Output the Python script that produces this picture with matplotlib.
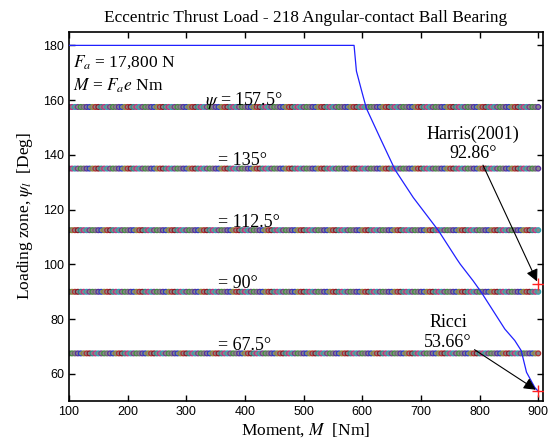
import numpy as np
import matplotlib
matplotlib.use('Agg')
import matplotlib.pyplot as plt

# loading zone curve
moment = [100, 586, 590, 599, 607, 631, 656, 687, 730, 761, 767, 789, 803,
          823, 843, 860, 871, 880, 894, 900]
psi_l = [180, 180, 170.6, 163.3, 157.0, 145.9, 134.5, 124.4, 112.3, 102.0,
         100.1, 94.0, 89.8, 83.1, 76.4, 72.2, 68.5, 60.6, 55.1, 53.66]

# constant ball-position rows
psi_levels = [157.5, 135, 112.5, 90, 67.5]
psi_labels = [r'$\psi$ = 157.5°', '= 135°', '= 112.5°', '= 90°', '= 67.5°']
m_grid = np.arange(100, 905, 5)

# reference results
ref_names = ['Harris(2001)\n92.86°', 'Ricci\n53.66°']
ref_m = [900, 900]
ref_psi = [92.86, 53.66]

palette = ['#8b1a2a', '#7a3a8c', '#2b3fbf', '#2e8a8a', '#3f8f3f', '#8a8a3a',
           '#c0307f', '#6a6a6a', '#b03030', '#30a0b0', '#5a2fa0']

plt.rcParams['font.family'] = ['Liberation Serif', 'DejaVu Serif']
plt.rcParams['mathtext.fontset'] = 'stix'

fig = plt.figure(figsize=(5.53, 4.45), dpi=100)
ax = fig.add_axes([0.1248, 0.0982, 0.857, 0.8306])

for lvl in psi_levels:
    cols = [palette[(i * 3 + int(lvl)) % len(palette)] for i in range(len(m_grid))]
    ax.scatter(m_grid, [lvl] * len(m_grid), s=12, c='#8a8a8a', edgecolors=cols,
               linewidths=0.9, zorder=2)

ax.plot(moment, psi_l, color='#2020ff', lw=0.9, zorder=3)
ax.plot(ref_m, ref_psi, '+', color='#ff2020', ms=8, mew=1.0, zorder=4)

text_pos = [(332, 160), (354, 137.8), (354, 115.3), (354, 93.1), (354, 70.3)]
for (x, y), lab in zip(text_pos, psi_labels):
    ax.text(x, y, lab, fontsize=13, va='center', ha='left', zorder=5)

ax.text(106, 173.9, r'$F_a$ = 17,800 N', fontsize=12.5, va='center')
ax.text(106, 165.1, r'$M$ = $F_a e$ Nm', fontsize=12.5, va='center')

arrow = dict(arrowstyle='-|>', mutation_scale=18, lw=0.8, color='k',
             shrinkA=0, shrinkB=2)
ax.annotate(ref_names[0], xy=(ref_m[0], ref_psi[0]), xytext=(789, 144),
            ha='center', va='center', fontsize=13, arrowprops=arrow)
ax.annotate(ref_names[1], xy=(ref_m[1], ref_psi[1]), xytext=(746, 75.2),
            ha='center', va='center', fontsize=13, arrowprops=arrow)

ax.set_xlim(100, 908)
ax.set_ylim(50, 185)
ax.set_xticks(range(100, 901, 100))
ax.set_yticks(range(60, 181, 20))
ax.tick_params(direction='in', top=True, right=True, length=4, width=1,
               labelsize=9, labelfontfamily='Liberation Sans')
for sp in ax.spines.values():
    sp.set_linewidth(1.2)

ax.set_title('Eccentric Thrust Load - 218 Angular-contact Ball Bearing',
             fontsize=12.4, pad=7)
ax.set_xlabel(r'Moment, $M$  [Nm]', fontsize=12.5, labelpad=2)
ax.set_ylabel(r'Loading zone, $\psi_l$  [Deg]', fontsize=12.5, labelpad=6)

fig.savefig('out.png', dpi=100)
